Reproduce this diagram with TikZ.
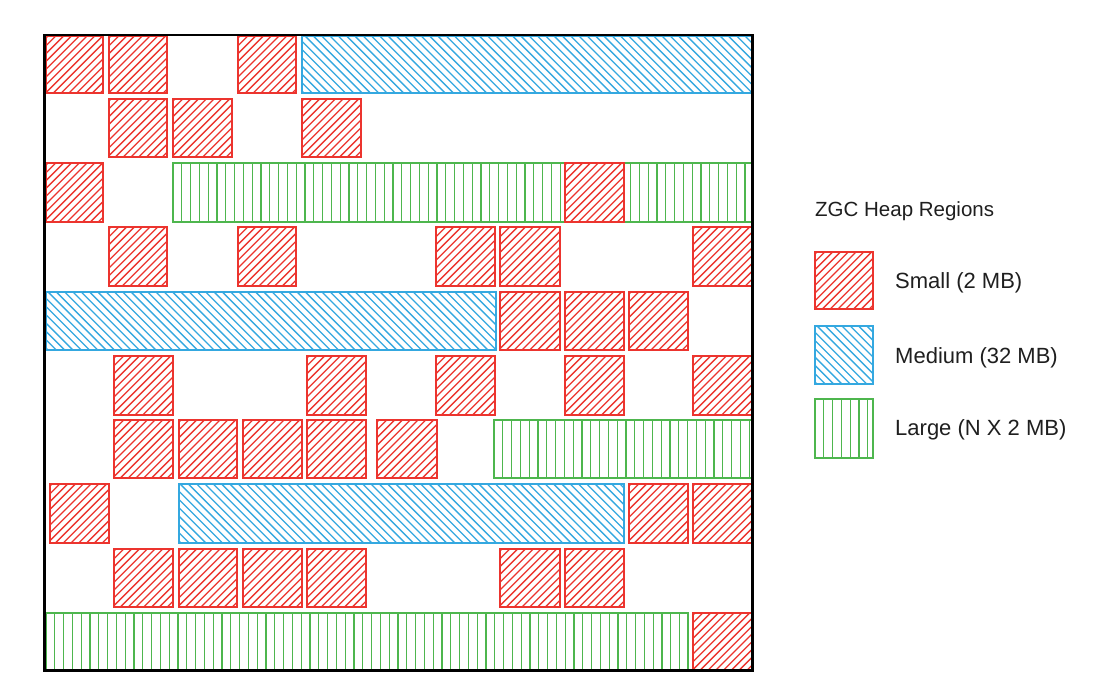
\documentclass[tikz,border=0pt]{standalone}
\usepackage{fontspec}
\setmainfont{Liberation Sans}
\definecolor{zred}{RGB}{236,52,46}
\definecolor{zblue}{RGB}{52,168,224}
\definecolor{zgreen}{RGB}{78,182,78}
\tikzset{
  small/.style={draw=zred, line width=1.4pt},
  medium/.style={draw=zblue, line width=1.4pt},
  large/.style={draw=zgreen, line width=1.4pt},
  hred/.style={draw=zred, line width=1.3pt},
  hblue/.style={draw=zblue, line width=1.3pt},
  hgreen/.style={draw=zgreen, line width=1.3pt},
  frame/.style={draw=black, line width=2.6pt},
  label/.style={anchor=base west, inner sep=0pt, font=\fontsize{22}{26}\selectfont, text=black!88},
  title/.style={anchor=base west, inner sep=0pt, font=\fontsize{20.5}{24}\selectfont, text=black!88}
}
% hatch macros: args x1,y1,x2,y2 (y downwards)
\newcommand\hatchsmall[4]{%
  \pgfmathsetmacro\zha{#4-#2}%
  \pgfmathsetmacro\zxs{#1-\zha}%
  \pgfmathsetmacro\zxn{#1-\zha+7.8}%
  \foreach \zx in {\zxs,\zxn,...,#3} {\draw[hred] (\zx,#4+2) -- ++(\zha+4,-\zha-4);}%
}
\newcommand\hatchmedium[4]{%
  \pgfmathsetmacro\zha{#4-#2}%
  \pgfmathsetmacro\zxs{#1-\zha}%
  \pgfmathsetmacro\zxn{#1-\zha+8.3}%
  \foreach \zx in {\zxs,\zxn,...,#3} {\draw[hblue] (\zx,#2-2) -- ++(\zha+4,\zha+4);}%
}
\newcommand\hatchlarge[4]{%
  \pgfmathsetmacro\zxs{#1+8.8}%
  \pgfmathsetmacro\zxn{#1+17.6}%
  \foreach \zx in {\zxs,\zxn,...,#3} {\draw[hgreen] (\zx,#2) -- (\zx,#4);}%
}
\newcommand\zr[5]{%
  \begin{scope}
    \fill[white] (#2,#3) rectangle (#4,#5);
    \clip (#2,#3) rectangle (#4,#5);
    \csname hatch#1\endcsname{#2}{#3}{#4}{#5}
  \end{scope}
  \draw[#1] (#2,#3) rectangle (#4,#5);
}
\begin{document}
\begin{tikzpicture}[x=1pt,y=-1pt]
\useasboundingbox[fill=white] (0,0) rectangle (1094,692);
% Row 1
\zr{small}{46}{36}{103}{93}
\zr{small}{109}{36}{167}{93}
\zr{small}{238}{36}{296}{93}
\zr{medium}{302}{36}{752}{93}
% Row 2
\zr{small}{109}{99}{167}{157}
\zr{small}{173}{99}{232}{157}
\zr{small}{302}{99}{361}{157}
% Row 3
\zr{small}{46}{163}{103}{222}
\zr{large}{173}{163}{752}{222}
\zr{small}{565}{163}{624}{222}
% Row 4
\zr{small}{109}{227}{167}{286}
\zr{small}{238}{227}{296}{286}
\zr{small}{436}{227}{495}{286}
\zr{small}{500}{227}{560}{286}
\zr{small}{693}{227}{752}{286}
% Row 5
\zr{medium}{46}{292}{496}{350}
\zr{small}{500}{292}{560}{350}
\zr{small}{565}{292}{624}{350}
\zr{small}{629}{292}{688}{350}
% Row 6
\zr{small}{114}{356}{173}{415}
\zr{small}{307}{356}{366}{415}
\zr{small}{436}{356}{495}{415}
\zr{small}{565}{356}{624}{415}
\zr{small}{693}{356}{752}{415}
% Row 7
\zr{small}{114}{420}{173}{478}
\zr{small}{179}{420}{237}{478}
\zr{small}{243}{420}{302}{478}
\zr{small}{307}{420}{366}{478}
\zr{small}{377}{420}{437}{478}
\zr{large}{494}{420}{752}{478}
% Row 8
\zr{small}{50}{484}{109}{543}
\zr{medium}{179}{484}{624}{543}
\zr{small}{629}{484}{688}{543}
\zr{small}{693}{484}{752}{543}
% Row 9
\zr{small}{114}{549}{173}{607}
\zr{small}{179}{549}{237}{607}
\zr{small}{243}{549}{302}{607}
\zr{small}{307}{549}{366}{607}
\zr{small}{500}{549}{560}{607}
\zr{small}{565}{549}{624}{607}
% Row 10
\zr{large}{46}{613}{688}{670}
\zr{small}{693}{613}{752}{670}
% Frame
\draw[frame] (44.5,35) rectangle (752.5,670.5);
% Legend
\node[title] (ttl) at (815,216.5) {ZGC Heap Regions};
\zr{small}{815}{252}{873}{309}
\zr{medium}{815}{326}{873}{384}
\zr{large}{815}{399}{873}{458}
\node[label] (lsmall) at (895,289) {Small (2 MB)};
\node[label] (lmed) at (895,363) {Medium (32 MB)};
\node[label] (llarge) at (895,435) {Large (N X 2 MB)};
\end{tikzpicture}
\end{document}
